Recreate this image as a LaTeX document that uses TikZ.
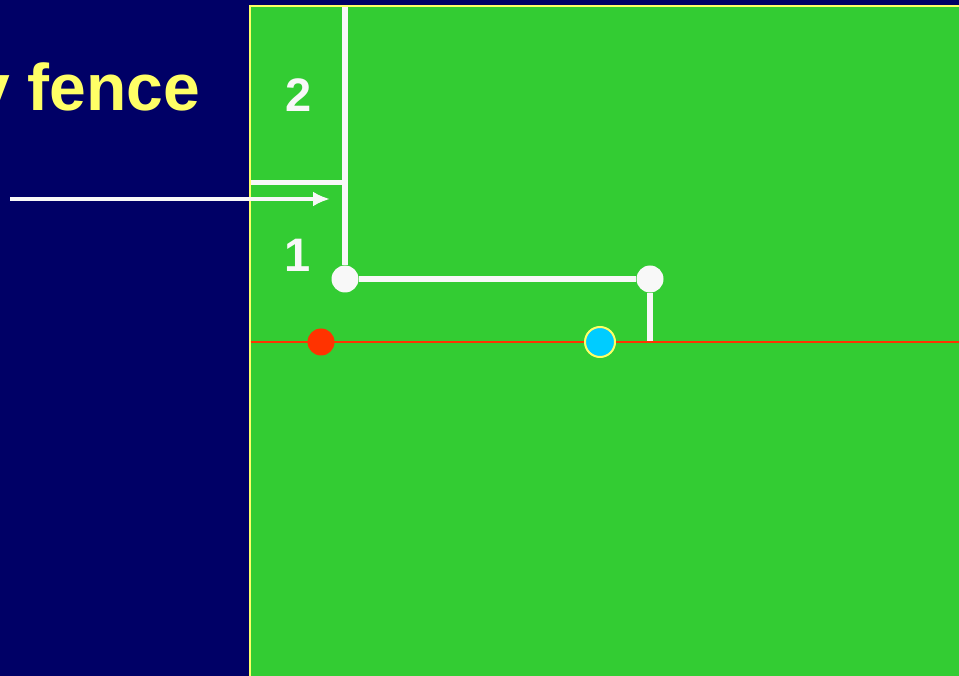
\documentclass[tikz,border=0pt]{standalone}
\usepackage{fontspec}
\setmainfont{Liberation Sans}
\usetikzlibrary{positioning}
\usetikzlibrary{arrows.meta}
\definecolor{navy}{RGB}{0,0,102}
\definecolor{field}{RGB}{51,204,51}
\definecolor{lemon}{RGB}{255,255,102}
\definecolor{chalk}{RGB}{248,248,248}
\definecolor{redball}{RGB}{255,51,0}
\definecolor{cyanball}{RGB}{0,204,255}

\tikzset{
    post/.style={circle, fill=chalk, minimum size=27pt, inner sep=0pt},
    mark line/.style={chalk, line width=5.5pt},
    num/.style={text=chalk, font=\fontsize{47}{50}\selectfont\bfseries, anchor=base},
}

\begin{document}
\begin{tikzpicture}[x=1pt, y=-1pt, >={Latex[length=17pt,width=15pt]}]
\useasboundingbox (0,0) rectangle (959,676);
\fill[navy] (0,0) rectangle (959,676);

% --- field ---
\draw[lemon, line width=2pt, fill=field] (249.5,6.5) rectangle (970,690);

% --- labels ---
\node[text=lemon, font=\fontsize{66}{70}\selectfont\bfseries, anchor=base east] (title) at (204,111) {y fence};
\node[num] (n2) at (299,112) {2};
\node[num] (n1) at (298,272) {1};

% --- fence lines ---
\coordinate (top) at (345,7);
\coordinate (fenceL) at (250.5,183);
\coordinate (fenceR) at (345,183);
\coordinate (foot) at (650,342);
\node[post] (p1) at (345,279) {};
\node[post] (p2) at (650,279) {};
\draw[mark line] (top) -- (p1);
\draw[mark line] (p1) -- (p2);
\draw[mark line] (p2) -- (foot);
\draw[chalk, line width=5pt] (fenceL) -- (fenceR);

% --- red line and balls ---
\coordinate (lineL) at (250.5,342);
\coordinate (lineR) at (959,342);
\draw[redball, line width=2.5pt] (lineL) -- (lineR);
\node[circle, fill=redball, minimum size=27pt, inner sep=0pt] (red) at (321,342) {};
\node[circle, fill=cyanball, draw=lemon, line width=2pt, minimum size=30pt, inner sep=0pt] (cue) at (600,342) {};

% --- arrow ---
\coordinate (arrS) at (10,199);
\coordinate (arrE) at (330,199);
\draw[->, chalk, line width=4.5pt] (arrS) -- (arrE);
\end{tikzpicture}
\end{document}
